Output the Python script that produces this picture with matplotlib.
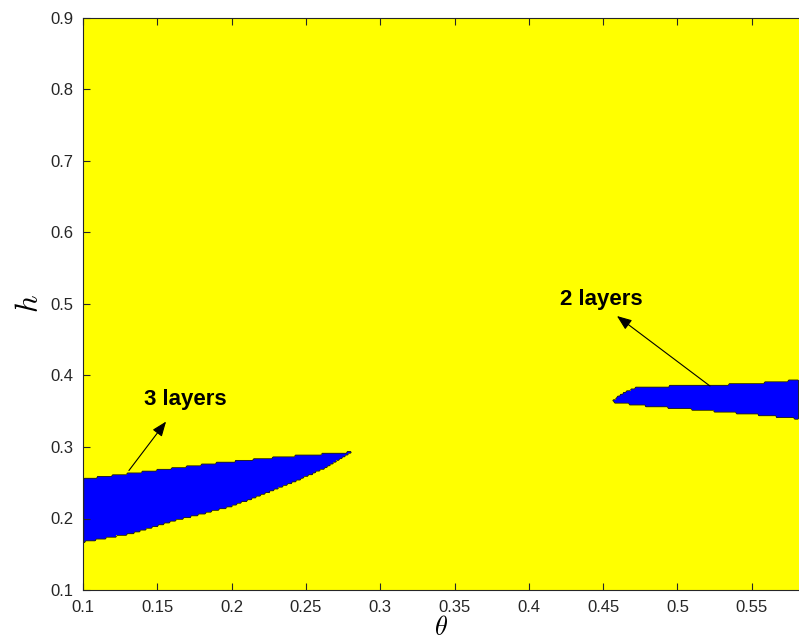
import matplotlib
matplotlib.use("Agg")
import matplotlib.pyplot as plt
from matplotlib.path import Path
from matplotlib.colors import ListedColormap
import numpy as np

plt.rcParams["font.family"] = ["Liberation Sans", "DejaVu Sans"]
plt.rcParams["mathtext.fontset"] = "cm"

# Boundary of the three-layer region (theta, h)
three_top_theta = [0.1, 0.1451, 0.1902, 0.2326, 0.2810]
three_top_h = [0.2552, 0.2664, 0.2776, 0.2860, 0.2930]
three_bot_theta = [0.1, 0.1316, 0.1653, 0.1989, 0.2326, 0.2528, 0.2662, 0.2750, 0.2810]
three_bot_h = [0.1671, 0.1783, 0.1990, 0.2161, 0.2430, 0.2610, 0.2740, 0.2850, 0.2930]

# Boundary of the two-layer region (theta, h)
two_top_theta = [0.4553, 0.4634, 0.4735, 0.5267, 0.5556, 0.5818]
two_top_h = [0.3629, 0.3755, 0.3839, 0.3867, 0.3895, 0.3937]
two_bot_theta = [0.4553, 0.4795, 0.5307, 0.5556, 0.5818]
two_bot_h = [0.3629, 0.3573, 0.3490, 0.3448, 0.3392]

x_ticks = [0.1, 0.15, 0.2, 0.25, 0.3, 0.35, 0.4, 0.45, 0.5, 0.55]
x_tick_labels = ["0.1", "0.15", "0.2", "0.25", "0.3", "0.35", "0.4", "0.45", "0.5", "0.55"]
y_ticks = [0.1, 0.2, 0.3, 0.4, 0.5, 0.6, 0.7, 0.8, 0.9]
y_tick_labels = ["0.1", "0.2", "0.3", "0.4", "0.5", "0.6", "0.7", "0.8", "0.9"]

X_MIN, X_MAX = 0.1, 0.5818
Y_MIN, Y_MAX = 0.1, 0.9

fig = plt.figure(figsize=(7.99, 6.43), dpi=100)
ax = fig.add_axes([83 / 799, 53 / 643, 716 / 799, 572 / 643])


def outline(top_t, top_h, bot_t, bot_h):
    xs = list(top_t) + list(bot_t[::-1])
    ys = list(top_h) + list(bot_h[::-1])
    return Path(np.column_stack([xs, ys]))


regions = [
    outline(three_top_theta, three_top_h, three_bot_theta, three_bot_h),
    outline(two_top_theta, two_top_h, two_bot_theta, two_bot_h),
]

# Evaluate the phase map on the (theta, h) computation grid
d_theta, d_h = 0.001, 0.0025
theta_c = np.arange(X_MIN, X_MAX + d_theta, d_theta)
h_c = np.arange(Y_MIN, Y_MAX + d_h, d_h)
TT, HH = np.meshgrid(theta_c, h_c)
pts = np.column_stack([TT.ravel(), HH.ravel()])
phase = np.zeros(TT.shape)
for p in regions:
    phase[p.contains_points(pts, radius=1e-9).reshape(TT.shape)] = 1.0

cmap = ListedColormap([(1, 1, 0), (0, 0, 1)])
ax.pcolormesh(theta_c, h_c, phase, cmap=cmap, vmin=0, vmax=1, shading="nearest",
              rasterized=True, zorder=1)
ax.contour(theta_c, h_c, phase, levels=[0.5], colors="#2a2a00", linewidths=0.6, zorder=2)

arrow_props = dict(arrowstyle="-|>,head_length=0.9,head_width=0.35", color="black",
                   lw=0.8, shrinkA=0, shrinkB=0)
ax.annotate("", xy=(0.1559, 0.3356), xytext=(0.1309, 0.2671), arrowprops=arrow_props, zorder=3)
ax.annotate("", xy=(0.4593, 0.4832), xytext=(0.5219, 0.3853), arrowprops=arrow_props, zorder=3)
ax.text(0.1687, 0.3671, "3 layers", fontsize=16, fontweight="bold", ha="center", va="center", zorder=4)
ax.text(0.4490, 0.5056, "2 layers", fontsize=16, fontweight="bold", ha="center", va="center", zorder=4)

ax.set_xlim(X_MIN, X_MAX)
ax.set_ylim(Y_MIN, Y_MAX)
ax.set_xticks(x_ticks)
ax.set_xticklabels(x_tick_labels)
ax.set_yticks(y_ticks)
ax.set_yticklabels(y_tick_labels)
ax.tick_params(direction="in", length=5, width=0.8, labelsize=12, top=True, right=False,
               colors="#262626", pad=7)
for name, s in ax.spines.items():
    s.set_color("#262626")
    s.set_linewidth(0.8)
ax.spines["right"].set_visible(False)

ax.set_xlabel(r"$\theta$", fontsize=19, labelpad=1)
ax.set_ylabel(r"$h$", fontsize=22, labelpad=4)

fig.savefig("out.png", dpi=100)
